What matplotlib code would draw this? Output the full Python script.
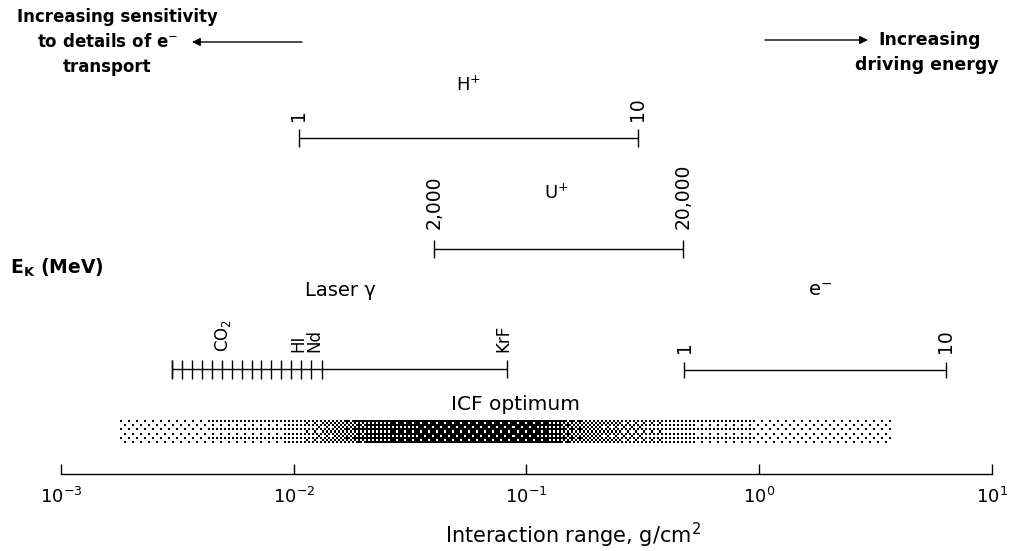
import numpy as np
import matplotlib.pyplot as plt

# interaction range axis, g/cm^2
decades = [1e-3, 1e-2, 1e-1, 1e0, 1e1]
decade_labels = ['$10^{-3}$', '$10^{-2}$', '$10^{-1}$', '$10^{0}$', '$10^{1}$']

# beam ranges (g/cm^2) at the end energies (MeV)
hplus_range = [0.0105, 0.30]
hplus_energy = ['1', '10']
uplus_range = [0.040, 0.47]
uplus_energy = ['2,000', '20,000']
electron_range = [0.475, 6.34]
electron_energy = ['1', '10']

laser_range = [0.0030, 0.0824]
laser_ticks = [0.00300, 0.00331, 0.00365, 0.00403, 0.00445, 0.00492, 0.00543,
               0.00600, 0.00662, 0.00723, 0.00798, 0.00881, 0.00973, 0.01074,
               0.01186, 0.01322]
laser_names = ['CO$_2$', 'HI', 'Nd', 'KrF']
laser_name_x = [0.00497, 0.0105, 0.0123, 0.0793]

# ICF optimum, shading density along the range
icf_x = [0.00179, 0.00395, 0.00873, 0.01175, 0.0158, 0.0213, 0.0348, 0.0769,
         0.114, 0.154, 0.207, 0.308, 0.456, 0.678, 1.50, 3.76]
icf_density = [0.12, 0.15, 0.2, 0.3, 0.5, 0.75, 0.85, 0.9,
               0.85, 0.6, 0.45, 0.35, 0.25, 0.18, 0.12, 0.1]

W, H = 1012, 551
fig = plt.figure(figsize=(W / 100, H / 100), dpi=100)
ax = fig.add_axes([61 / W, 0, 931 / W, 1])
ax.set_xscale('log')
ax.set_xlim(1e-3, 1e1)
ax.set_ylim(H, 0)
ax.axis('off')

lay = fig.add_axes([0, 0, 1, 1])
lay.set_xlim(0, W)
lay.set_ylim(H, 0)
lay.axis('off')
lay.patch.set_alpha(0)


def bar(x0, x1, y, tick=9):
    ax.plot([x0, x1], [y, y], color='k', lw=1.0, solid_capstyle='butt')
    ax.vlines([x0, x1], y - tick, y + tick, color='k', lw=1.0)


def end_labels(xs, labels, y, off=17, size=13.5):
    for x, s in zip(xs, labels):
        ax.text(x, y - off, s, rotation=90, ha='center', va='bottom', fontsize=size)


# H+
bar(hplus_range[0], hplus_range[1], 138)
end_labels(hplus_range, hplus_energy, 138)
lay.text(468, 85, 'H$^{+}$', ha='center', va='center', fontsize=13)

# U+
bar(uplus_range[0], uplus_range[1], 249)
end_labels(uplus_range, uplus_energy, 249, off=20)
lay.text(556, 193, 'U$^{+}$', ha='center', va='center', fontsize=13)

# laser
bar(laser_range[0], laser_range[1], 369)
ax.vlines(laser_ticks, 360, 379, color='k', lw=1.0)
end_labels(laser_name_x, laser_names, 369, size=12)
lay.text(340, 290, 'Laser \u03b3', ha='center', va='center', fontsize=14)

# electrons
bar(electron_range[0], electron_range[1], 370, tick=8)
end_labels(electron_range, electron_energy, 370)
lay.text(820, 290, 'e$^{-}$', ha='center', va='center', fontsize=14)

# ICF optimum stipple (ordered dither of the density)
cell = 2
ncols = int((893 - 120) / cell)
nrows = int((443 - 420) / cell)
xedges = np.logspace(np.log10(icf_x[0]), np.log10(icf_x[-1]), ncols + 1)
yedges = np.linspace(420, 443, nrows + 1)
xc = np.sqrt(xedges[:-1] * xedges[1:])
dens = np.interp(np.log10(xc), np.log10(icf_x), icf_density)
bayer = np.array([[0, 8, 2, 10], [12, 4, 14, 6], [3, 11, 1, 9], [15, 7, 13, 5]]) / 16 + 1 / 32
rr, cc = np.meshgrid(np.arange(nrows), np.arange(ncols), indexing='ij')
img = (dens[None, :] > bayer[rr % 4, cc % 4]).astype(float)
ax.pcolormesh(xedges, yedges, img, cmap='gray_r', vmin=0, vmax=1,
              antialiased=False, edgecolors='none')
lay.text(516, 404, 'ICF optimum', ha='center', va='center', fontsize=14.5)

# range axis
ax.plot([decades[0], decades[-1]], [474, 474], color='k', lw=1.0, clip_on=False)
ax.vlines(decades, 464, 474, color='k', lw=1.0, clip_on=False)
for x, s in zip(decades, decade_labels):
    ax.text(x, 497, s, ha='center', va='center', fontsize=13, clip_on=False)
lay.text(573, 535, 'Interaction range, g/cm$^{2}$', ha='center', va='center', fontsize=15)

lay.text(10, 268, 'E$_{\\mathbf{K}}$ (MeV)', ha='left', va='center', fontsize=13.5, weight='bold')

# direction notes
lay.text(117, 17, 'Increasing sensitivity', ha='center', va='center', fontsize=12, weight='bold')
lay.text(107, 42, 'to details of e$^{-}$', ha='center', va='center', fontsize=12, weight='bold')
lay.text(107, 67, 'transport', ha='center', va='center', fontsize=12, weight='bold')
lay.annotate('', xy=(192, 42), xytext=(302, 42),
             arrowprops=dict(arrowstyle='-|>', color='k', lw=1.0, mutation_scale=12,
                             shrinkA=0, shrinkB=0))
lay.annotate('', xy=(868, 40), xytext=(765, 40),
             arrowprops=dict(arrowstyle='-|>', color='k', lw=1.0, mutation_scale=12,
                             shrinkA=0, shrinkB=0))
lay.text(930, 40, 'Increasing', ha='center', va='center', fontsize=12.5, weight='bold')
lay.text(927, 65, 'driving energy', ha='center', va='center', fontsize=12.5, weight='bold')

fig.savefig('out.png', dpi=100)
